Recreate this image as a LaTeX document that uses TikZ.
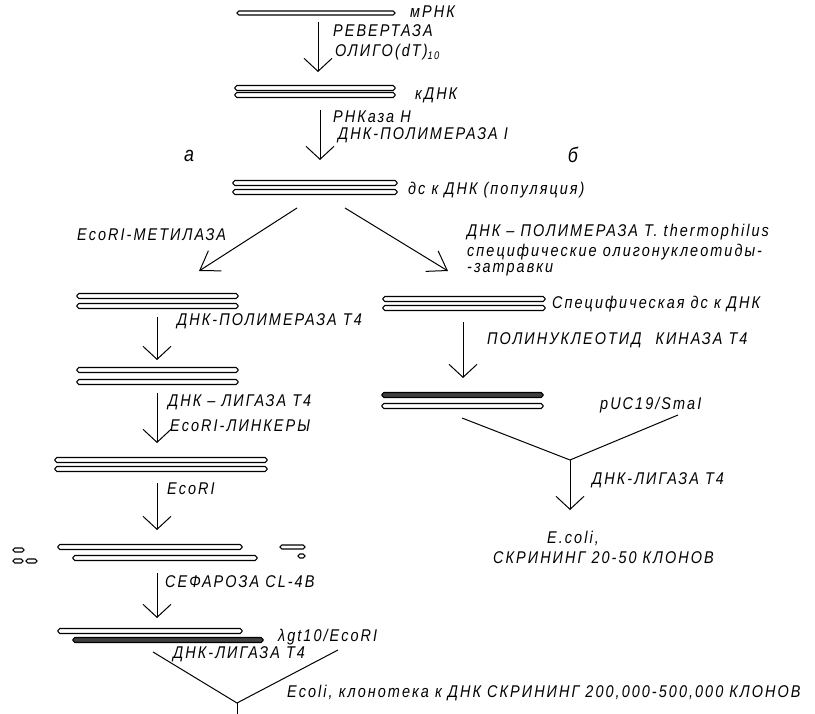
\documentclass[tikz,border=0pt]{standalone}
\usepackage{fontspec}
\setmainfont{Liberation Sans}
\newfontfamily\gost{Liberation Sans}[FakeStretch=0.85,LetterSpace=12]
\usetikzlibrary{arrows.meta}
\begin{document}
\begin{tikzpicture}[x=1pt,y=-1pt,
  lab/.style={font=\gost\itshape\fontsize{17}{17}\selectfont, inner sep=0pt, anchor=west},
  biglab/.style={font=\gost\itshape\fontsize{21}{21}\selectfont, inner sep=0pt},
  bar/.style={draw, line width=1.1pt, rounded corners=1.8pt, fill=white},
  darkbar/.style={bar, fill=black!75},
  arr/.style={line width=1pt, -{Straight Barb[length=13pt,width=28pt,line width=1pt]}},
  darr/.style={line width=1pt, -{Straight Barb[length=18pt,width=24pt,line width=1pt]}},
  ln/.style={line width=1pt}]
\useasboundingbox (0,0) rectangle (815,714);
\fill[white] (0,0) rectangle (815,714);
% ---------- strands ----------
\draw[bar] (237,11) rectangle (395,15);
\draw[bar] (235,85.5) rectangle (395,90.5);
\draw[bar] (235,92.5) rectangle (395,97.5);
\draw[bar] (233,180.5) rectangle (397,185.5);
\draw[bar] (233,189.5) rectangle (397,194.5);
% left column
\draw[bar] (77,293.5) rectangle (238,298.5);
\draw[bar] (77,303.5) rectangle (238,308.5);
\draw[bar] (77,367.5) rectangle (238,372.5);
\draw[bar] (77,379.5) rectangle (238,384.5);
\draw[bar] (55,457.5) rectangle (267,462.5);
\draw[bar] (55,466.5) rectangle (267,471.5);
\draw[bar] (58,544.5) rectangle (242,549.5);
\draw[bar] (73,555.5) rectangle (257,560.5);
\draw[bar] (13,548) rectangle (24,552);
\draw[bar] (13,559) rectangle (23,563);
\draw[bar] (26,559) rectangle (37,563);
\draw[bar] (280,545) rectangle (305,549);
\draw[bar] (298,554) rectangle (305,558);
\draw[bar] (58,628.5) rectangle (242,633.5);
\draw[darkbar] (73,637.5) rectangle (263,642.5);
% right column
\draw[bar] (383,296.5) rectangle (545,301.5);
\draw[bar] (383,305.5) rectangle (545,310.5);
\draw[darkbar] (382,392.5) rectangle (543,397.5);
\draw[bar] (382,403.5) rectangle (543,408.5);
% ---------- labels ----------
\node[lab] (mrna) at (410,12) {мРНК};
\node[lab] (revt) at (333,31) {РЕВЕРТАЗА};
\node[lab] (oligo) at (335,52) {ОЛИГО(dT)\raisebox{-0.35ex}{\fontsize{11}{11}\selectfont 10}};
\node[lab] (kdnk) at (415,95) {кДНК};
\node[lab] (rnase) at (333,117) {РНКаза Н};
\node[lab] (pol1) at (338,135) {ДНК-ПОЛИМЕРАЗА I};
\node[biglab] (la) at (189,156) {а};
\node[biglab] (lb) at (573,155) {б};
\node[lab] (dsk) at (408,190) {дс к ДНК (популяция)};
\node[lab] (meth) at (77,235) {EcoRI-МЕТИЛАЗА};
\node[lab] (tth) at (467,232) {ДНК – ПОЛИМЕРАЗА T. thermophilus};
\node[lab] (spec1) at (467,252) {специфические олигонуклеотиды-};
\node[lab] (spec2) at (467,270) {-затравки};
\node[lab] (polt4) at (177,321) {ДНК-ПОЛИМЕРАЗА Т4};
\node[lab] (specds) at (552,304) {Специфическая дс к ДНК};
\node[lab] (kin) at (487,340) {ПОЛИНУКЛЕОТИД\hspace{8pt} КИНАЗА Т4};
\node[lab] (lig1) at (168,402) {ДНК – ЛИГАЗА Т4};
\node[lab] (link) at (170,426) {EcoRI-ЛИНКЕРЫ};
\node[lab] (puc) at (600,405) {pUC19/SmaI};
\node[lab] (ecori) at (167,489) {EcoRI};
\node[lab] (lig2) at (592,480) {ДНК-ЛИГАЗА Т4};
\node[lab] (ecoli1) at (547,538) {E.coli,};
\node[lab] (scr1) at (493,558) {СКРИНИНГ 20-50 КЛОНОВ};
\node[lab] (seph) at (165,582) {СЕФАРОЗА CL-4B};
\node[lab] (lgt) at (278,637) {λgt10/EcoRI};
\node[lab] (lig3) at (173,654) {ДНК-ЛИГАЗА Т4};
\node[lab] (ecoli2) at (287,693) {Ecoli, клонотека к ДНК СКРИНИНГ 200,000-500,000 КЛОНОВ};
% ---------- connectors ----------
\coordinate (a1s) at (318,22);  \coordinate (a1e) at (318,72);
\coordinate (a2s) at (320,110); \coordinate (a2e) at (320,160);
\coordinate (dls) at (297,208); \coordinate (dle) at (199,271);
\coordinate (drs) at (345,208); \coordinate (dre) at (448,271);
\coordinate (l1s) at (157,317); \coordinate (l1e) at (157,360);
\coordinate (r1s) at (463,322); \coordinate (r1e) at (463,378);
\coordinate (l2s) at (157,393); \coordinate (l2e) at (157,443);
\coordinate (l3s) at (157,483); \coordinate (l3e) at (157,530);
\coordinate (l4s) at (157,573); \coordinate (l4e) at (157,618);
\coordinate (ryl) at (462,418); \coordinate (ryr) at (678,415);
\coordinate (ryj) at (570,460); \coordinate (rye) at (570,510);
\coordinate (lyl) at (153,652); \coordinate (lyr) at (338,650);
\coordinate (lyj) at (237,703); \coordinate (lye) at (237,714);
\draw[arr] (a1s) -- (a1e);
\draw[arr] (a2s) -- (a2e);
\draw[darr] (dls) -- (dle);
\draw[darr] (drs) -- (dre);
\draw[arr] (l1s) -- (l1e);
\draw[arr] (r1s) -- (r1e);
\draw[arr] (l2s) -- (l2e);
\draw[arr] (l3s) -- (l3e);
\draw[arr] (l4s) -- (l4e);
\draw[ln] (ryl) -- (ryj) -- (ryr);
\draw[arr] (ryj) -- (rye);
\draw[ln] (lyl) -- (lyj) -- (lyr);
\draw[ln] (lyj) -- (lye);
\end{tikzpicture}
\end{document}
